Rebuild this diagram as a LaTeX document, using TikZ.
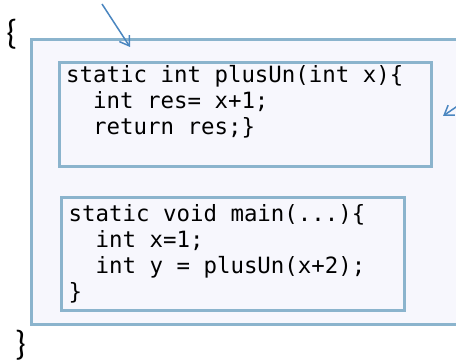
\documentclass[tikz,border=0pt]{standalone}
\usepackage{fontspec}
\newfontfamily\codefont{DejaVu Sans Mono}
\newfontfamily\bracefont{Carlito}
\usetikzlibrary{arrows.meta}
\definecolor{frameblue}{RGB}{139,180,205}
\definecolor{panelfill}{RGB}{247,247,253}
\definecolor{arrowblue}{RGB}{74,134,192}
\begin{document}
\begin{tikzpicture}[x=1pt,y=-1pt,
  panel/.style={draw=frameblue, line width=3pt, fill=panelfill, inner sep=0pt},
  codeline/.style={font=\codefont\fontsize{22.4}{26}\selectfont, anchor=base west, inner sep=0pt, text=black},
  brace/.style={font=\bracefont\fontsize{35}{38}\selectfont, inner sep=0pt},
  pointer/.style={draw=arrowblue, line width=1.5pt, -{Straight Barb[length=9pt,width=12pt]}}]
  \useasboundingbox (0,0) rectangle (456,363);
  \clip (0,0) rectangle (456,363);
  \fill[white] (0,0) rectangle (456,363);

  % class body and the two methods
  \node[panel, minimum width=438.5pt, minimum height=284.5pt] (body) at (250.75,182.25) {};
  \node[panel, minimum width=372.5pt, minimum height=104pt] (plusun) at (245.25,114.5) {};
  \node[panel, minimum width=343.5pt, minimum height=112.5pt] (main) at (232.75,254.25) {};

  % method plusUn
  \node[codeline] (p1) at (66,83)  {static int plusUn(int x)\{};
  \node[codeline] (p2) at (66,109) {\hphantom{xx}int res= x+1;};
  \node[codeline] (p3) at (66,135) {\hphantom{xx}return res;\}};

  % method main
  \node[codeline] (m1) at (68.5,221.5) {static void main(...)\{};
  \node[codeline] (m2) at (68.5,248)   {\hphantom{xx}int x=1;};
  \node[codeline] (m3) at (68.5,274)   {\hphantom{xx}int y = plusUn(x+2);};
  \node[codeline] (m4) at (68.5,300)   {\}};

  % class braces
  \node[brace] (open) at (12,34) {\{};
  \node[brace] (close) at (20.5,345) {\}};

  % pointers
  \coordinate (tailA) at (102,4);
  \coordinate (tipA) at (130,47);
  \draw[pointer] (tailA) -- (tipA);
  \coordinate (tailB) at (475,94);
  \coordinate (tipB) at (443,116);
  \draw[pointer] (tailB) -- (tipB);
\end{tikzpicture}
\end{document}
